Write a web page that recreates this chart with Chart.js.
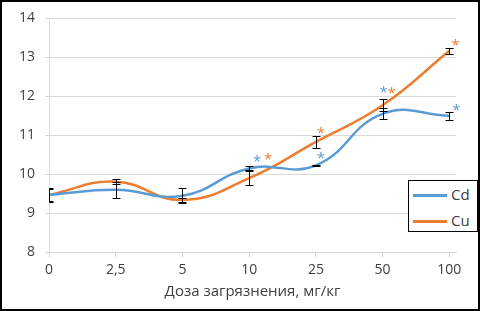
<!DOCTYPE html>
<html>
<head>
<meta charset="utf-8">
<script src="https://cdn.jsdelivr.net/npm/chart.js@4/dist/chart.umd.min.js"></script>
<style>
  body { margin: 0; background: #fff; }
  #wrap { position: relative; width: 480px; height: 311px; }
  #frame { position: absolute; left: 0; top: 0; width: 476px; height: 307px; border: 2px solid #000; pointer-events: none; }
  #legend { position: absolute; left: 408px; top: 180px; width: 68px; height: 50px; border: 1px solid #000; background: #fff;
            font-family: "Open Sans", sans-serif; font-size: 15px; color: #404040; }
  #legend .item { position: absolute; left: 4px; height: 20px; line-height: 20px; }
  #legend .swatch { display: inline-block; width: 34px; height: 3px; vertical-align: middle; margin-right: 4px; }
</style>
</head>
<body>
<div id="wrap">
  <canvas id="chart" width="480" height="311"></canvas>
  <div id="legend">
    <div class="item" style="top:3px"><span class="swatch" style="background:#5B9BD5"></span>Cd</div>
    <div class="item" style="top:29px"><span class="swatch" style="background:#ED7D31"></span>Cu</div>
  </div>
  <div id="frame"></div>
</div>
<script>
// Doses (x categories) and mean values
const doses = ['0', '2,5', '5', '10', '25', '50', '100'];
const cdValues = [9.47, 9.6, 9.45, 10.15, 10.23, 11.55, 11.5];
const cuValues = [9.47, 9.81, 9.34, 9.9, 10.83, 11.77, 13.17];

// Error bar half-widths
const cdErrors = [0.18, 0.2, 0.2, 0.05, 0.02, 0.14, 0.1];
const cuErrors = [0.15, 0.07, 0.06, 0.18, 0.15, 0.15, 0.08];

// Significance marks (asterisks)
const cdStars = [false, false, false, true, true, true, true];
const cuStars = [false, false, false, true, true, true, true];

const yMin = 8, yMax = 14, yStep = 1;

const textColor = '#404040';
const gridColor = '#d9d9d9';
const font = "'Open Sans', sans-serif";

// Draw error bars, clipped to the plot area like the original
const errorBars = {
    id: 'errorBars',
    afterDatasetsDraw(chart) {
        const ctx = chart.ctx;
        const area = chart.chartArea;
        const y = chart.scales.y;
        ctx.save();
        ctx.beginPath();
        ctx.rect(Math.round(area.left), 0, chart.width, chart.height);
        ctx.clip();
        ctx.strokeStyle = '#000';
        ctx.lineWidth = 1;
        chart.data.datasets.forEach((ds, di) => {
            const meta = chart.getDatasetMeta(di);
            meta.data.forEach((pt, i) => {
                const v = ds.data[i].y;
                const e = ds.errors[i];
                const x = Math.round(pt.x) + 0.5;
                const top = Math.round(y.getPixelForValue(v + e)) + 0.5;
                const bot = Math.round(y.getPixelForValue(v - e)) + 0.5;
                ctx.beginPath();
                ctx.moveTo(x, top); ctx.lineTo(x, bot);
                ctx.moveTo(x - 4, top); ctx.lineTo(x + 4, top);
                ctx.moveTo(x - 4, bot); ctx.lineTo(x + 4, bot);
                ctx.stroke();
            });
        });
        ctx.restore();
    }
};

// Draw the asterisks next to the points
const stars = {
    id: 'stars',
    afterDatasetsDraw(chart, args, opts) {
        const ctx = chart.ctx;
        ctx.save();
        ctx.font = '15px ' + font;
        ctx.textAlign = 'center';
        ctx.textBaseline = 'alphabetic';
        const m = ctx.measureText('*');
        const mid = (m.actualBoundingBoxAscent - m.actualBoundingBoxDescent) / 2;
        chart.data.datasets.forEach((ds, di) => {
            const meta = chart.getDatasetMeta(di);
            ctx.fillStyle = ds.borderColor;
            ds.stars.forEach((on, i) => {
                if (!on) return;
                const off = opts.offsets[di][i] || [0, -10];
                const pt = meta.data[i];
                ctx.fillText('*', pt.x + off[0], pt.y + off[1] + mid);
            });
        });
        ctx.restore();
    }
};

new Chart(document.getElementById('chart'), {
    type: 'line',
    data: {
        datasets: [
            {
                label: 'Cd',
                data: cdValues.map((v, i) => ({ x: i, y: v })),
                errors: cdErrors,
                stars: cdStars,
                borderColor: '#5B9BD5',
                borderWidth: 2.5,
                pointRadius: 0,
                tension: 0.45,
                fill: false
            },
            {
                label: 'Cu',
                data: cuValues.map((v, i) => ({ x: i, y: v })),
                errors: cuErrors,
                stars: cuStars,
                borderColor: '#ED7D31',
                borderWidth: 2.5,
                pointRadius: 0,
                tension: 0.45,
                fill: false
            }
        ]
    },
    options: {
        responsive: false,
        animation: false,
        devicePixelRatio: 1,
        layout: { padding: { top: 10, right: 24, bottom: 8, left: 0 } },
        scales: {
            x: {
                type: 'linear',
                min: 0,
                max: 6.1,
                afterBuildTicks: (s) => { s.ticks = doses.map((d, i) => ({ value: i })); },
                ticks: {
                    callback: (v) => doses[v],
                    color: textColor,
                    font: { family: font, size: 14 },
                    padding: 4,
                    maxRotation: 0,
                    autoSkip: false
                },
                grid: { drawOnChartArea: false, drawTicks: true, tickLength: 5, color: gridColor },
                border: { color: gridColor },
                title: {
                    display: true,
                    text: 'Доза загрязнения, мг/кг',
                    color: textColor,
                    font: { family: font, size: 15 },
                    padding: { top: 1, bottom: 2 }
                }
            },
            y: {
                min: yMin,
                max: yMax,
                afterFit: (s) => { s.width = 49; },
                ticks: {
                    stepSize: yStep,
                    color: textColor,
                    font: { family: font, size: 14 },
                    padding: 10
                },
                grid: { color: gridColor, tickLength: 4 },
                border: { color: gridColor }
            }
        },
        plugins: {
            legend: { display: false },
            tooltip: { enabled: false },
            stars: {
                offsets: [
                    { 3: [8, -10], 4: [5, -10], 5: [1, -24], 6: [7, -8] },
                    { 3: [19, -22], 4: [5, -11], 5: [9, -15], 6: [6, -8] }
                ]
            }
        }
    },
    plugins: [errorBars, stars]
});
</script>
</body>
</html>
